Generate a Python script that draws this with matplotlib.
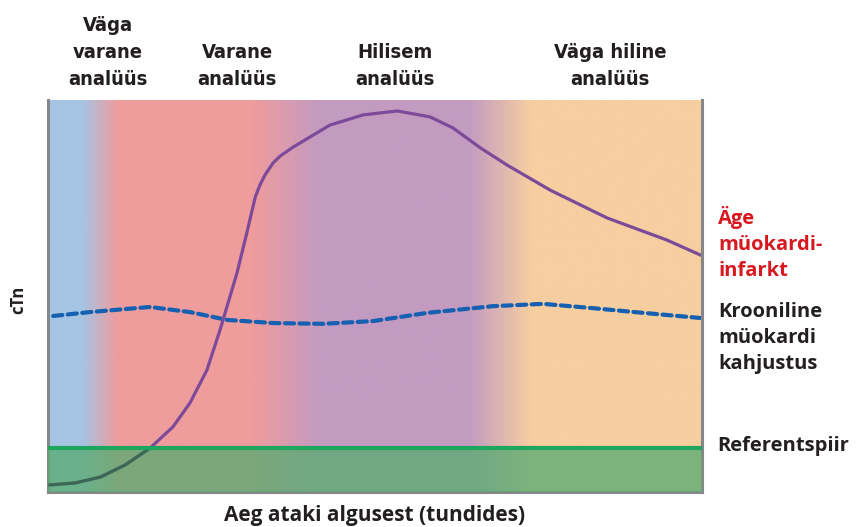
import numpy as np
import matplotlib.pyplot as plt
from matplotlib.colors import LinearSegmentedColormap
from matplotlib.patches import Rectangle

# hours since onset (relative 0-100) and cTn level (relative 0-100)
ami_x = [0.3, 4.1, 8.0, 11.8, 15.6, 19.1, 21.7, 24.3, 25.2, 26.3, 28.9, 30.4, 31.7,
         32.4, 33.2, 34.4, 35.5, 37.5, 43.1, 48.2, 53.4, 58.4, 61.9, 66.1, 70.2,
         76.8, 85.5, 94.6, 99.7]
ami_y = [1.8, 2.3, 3.8, 6.9, 11.2, 16.6, 22.7, 31.1, 35.7, 41.3, 55.9, 66.1, 75.3,
         78.3, 80.9, 83.9, 85.7, 88.0, 93.6, 96.2, 97.2, 95.7, 92.9, 87.8, 83.4,
         77.0, 69.9, 64.3, 60.5]

chronic_x = [0.8, 6.4, 15.6, 21.7, 27.4, 34.4, 42.0, 49.7, 58.0, 68.0, 75.7, 83.3, 91.0, 99.7]
chronic_y = [44.9, 45.9, 47.2, 45.9, 43.9, 43.1, 42.9, 43.6, 45.7, 47.4, 48.0, 46.9, 45.7, 44.4]

reference_level = 11.2

phase_labels = ["Väga\nvarane\nanalüüs", "Varane\nanalüüs", "Hilisem\nanalüüs", "Väga hiline\nanalüüs"]
phase_pos = [108, 237, 395, 610]

W, H = 857, 527
fig = plt.figure(figsize=(W / 100, H / 100), dpi=100)
ax = fig.add_axes([48 / W, 1 - 492 / H, 654 / W, 392 / H])

# background gradient of the analysis phases
stops = [(0.0, "#a6c4e4"), (0.05, "#a6c4e4"), (0.105, "#ef9c9c"), (0.31, "#ef9c9c"),
         (0.415, "#c39bc1"), (0.645, "#c39bc1"), (0.74, "#f6cea0"), (1.0, "#f6cea0")]
cmap = LinearSegmentedColormap.from_list("phases", stops)
ax.imshow(np.linspace(0, 1, 600)[None, :], cmap=cmap, aspect="auto",
          extent=[0, 100, 0, 100], zorder=0)

ax.plot(chronic_x, chronic_y, color="#1560b0", lw=3.0, ls=(0, (2.2, 1.3)),
        dash_capstyle="round", zorder=2)
ax.plot(ami_x, ami_y, color="#7d4a9a", lw=2.3, solid_joinstyle="round", zorder=2)

ax.axhspan(0, reference_level, color="#5aab72", alpha=0.78, lw=0, zorder=3)
# the part of the curve seen through the green reference band
low, = ax.plot(ami_x, ami_y, color="#3c6655", lw=2.3, solid_joinstyle="round", zorder=3.5)
low.set_clip_path(Rectangle((0, 0), 100, reference_level, transform=ax.transData))
ax.axhline(reference_level, color="#1ea65e", lw=3.0, zorder=4)

ax.set_xlim(0, 100)
ax.set_ylim(0, 100)
ax.set_xticks([])
ax.set_yticks([])
ax.spines["top"].set_visible(False)
for s in ["left", "right", "bottom"]:
    ax.spines[s].set_color("#858789")
    ax.spines[s].set_linewidth(2.2)

for lab, px in zip(phase_labels, phase_pos):
    fig.text(px / W, 1 - 89 / H, lab, ha="center", va="bottom", fontsize=14.5,
             fontweight="bold", family="DejaVu Sans", fontstretch="condensed",
             color="#231f20", linespacing=1.55)

rfam = ["Open Sans", "DejaVu Sans"]
fig.text(718 / W, 1 - 206 / H, "Äge\nmüokardi-\ninfarkt", ha="left", va="top",
         fontsize=14.5, fontweight="bold", family=rfam, color="#d7191f", linespacing=1.4)
fig.text(718 / W, 1 - 302 / H, "Krooniline\nmüokardi\nkahjustus", ha="left", va="top",
         fontsize=14.5, fontweight="bold", family=rfam, color="#231f20", linespacing=1.4)
fig.text(717 / W, 1 - 446 / H, "Referentspiir", ha="left", va="center",
         fontsize=14.5, fontweight="bold", family=rfam, color="#231f20")
fig.text(18 / W, 1 - 300 / H, "cTn", ha="center", va="center", rotation=90,
         fontsize=12, fontweight="bold", family=rfam, color="#231f20")
fig.text(375 / W, 1 - 516 / H, "Aeg ataki algusest (tundides)", ha="center", va="center",
         fontsize=15, fontweight="bold", family=rfam, color="#231f20")

fig.savefig("out.png", dpi=100)
